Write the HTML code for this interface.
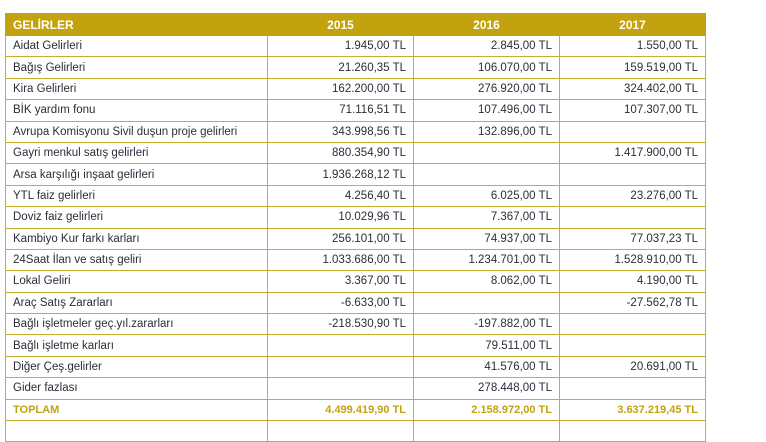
<!DOCTYPE html>
<html><head><meta charset="utf-8"><style>
body{margin:0;width:766px;height:439px;background:#fff;overflow:hidden;font-family:"Liberation Sans",sans-serif;}
table{position:absolute;left:5px;top:13px;border-collapse:collapse;table-layout:fixed;width:700px;}
td,th{border:1px solid #c9ad2e;height:20.4px;padding:0 7px;font-size:11.5px;color:#2b2d3a;white-space:nowrap;overflow:hidden;line-height:20px}
th{background:#c2a20e;color:#fff;font-weight:bold;height:21px;border-color:#c2a20e;font-size:12px;text-align:right}
th:first-child{text-align:left}
td{text-align:right}
td:first-child{text-align:left}
tr.t td{color:#c2a20e;font-weight:bold;font-size:11px}
</style></head><body>
<table>
<colgroup><col style="width:262px"><col style="width:146px"><col style="width:146px"><col style="width:146px"></colgroup>
<tr><th>GELİRLER</th><th style="text-align:center">2015</th><th style="text-align:center">2016</th><th style="text-align:center">2017</th></tr>
<tr><td>Aidat Gelirleri</td><td>1.945,00 TL</td><td>2.845,00 TL</td><td>1.550,00 TL</td></tr>
<tr><td>Bağış Gelirleri</td><td>21.260,35 TL</td><td>106.070,00 TL</td><td>159.519,00 TL</td></tr>
<tr><td>Kira Gelirleri</td><td>162.200,00 TL</td><td>276.920,00 TL</td><td>324.402,00 TL</td></tr>
<tr><td>BİK yardım fonu</td><td>71.116,51 TL</td><td>107.496,00 TL</td><td>107.307,00 TL</td></tr>
<tr><td>Avrupa Komisyonu Sivil duşun proje gelirleri</td><td>343.998,56 TL</td><td>132.896,00 TL</td><td></td></tr>
<tr><td>Gayri menkul satış gelirleri</td><td>880.354,90 TL</td><td></td><td>1.417.900,00 TL</td></tr>
<tr><td>Arsa karşılığı inşaat gelirleri</td><td>1.936.268,12 TL</td><td></td><td></td></tr>
<tr><td>YTL faiz gelirleri</td><td>4.256,40 TL</td><td>6.025,00 TL</td><td>23.276,00 TL</td></tr>
<tr><td>Doviz faiz gelirleri</td><td>10.029,96 TL</td><td>7.367,00 TL</td><td></td></tr>
<tr><td>Kambiyo Kur farkı karları</td><td>256.101,00 TL</td><td>74.937,00 TL</td><td>77.037,23 TL</td></tr>
<tr><td>24Saat İlan ve satış geliri</td><td>1.033.686,00 TL</td><td>1.234.701,00 TL</td><td>1.528.910,00 TL</td></tr>
<tr><td>Lokal Geliri</td><td>3.367,00 TL</td><td>8.062,00 TL</td><td>4.190,00 TL</td></tr>
<tr><td>Araç Satış Zararları</td><td>-6.633,00 TL</td><td></td><td>-27.562,78 TL</td></tr>
<tr><td>Bağlı işletmeler geç.yıl.zararları</td><td>-218.530,90 TL</td><td>-197.882,00 TL</td><td></td></tr>
<tr><td>Bağlı işletme karları</td><td></td><td>79.511,00 TL</td><td></td></tr>
<tr><td>Diğer Çeş.gelirler</td><td></td><td>41.576,00 TL</td><td>20.691,00 TL</td></tr>
<tr><td>Gider fazlası</td><td></td><td>278.448,00 TL</td><td></td></tr>
<tr class="t"><td>TOPLAM</td><td>4.499.419,90 TL</td><td>2.158.972,00 TL</td><td>3.637.219,45 TL</td></tr>
<tr><td></td><td></td><td></td><td></td></tr>
</table>
</body></html>
